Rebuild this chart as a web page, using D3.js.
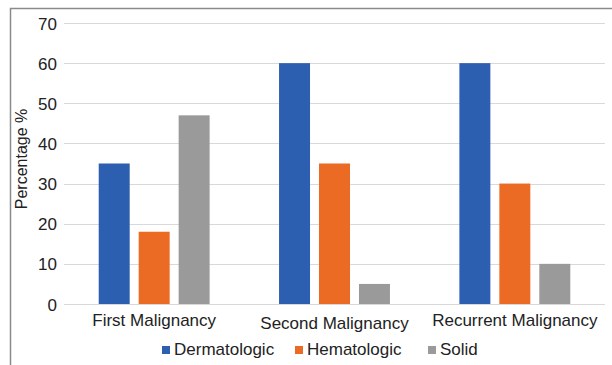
<!DOCTYPE html>
<html><head><meta charset="utf-8">
<script src="https://cdn.jsdelivr.net/npm/d3@7"></script>
<style>
html,body{margin:0;padding:0;background:#fff;}
svg{display:block;font-family:"Liberation Sans",Arial,sans-serif;}
</style></head>
<body>
<svg id="chart" width="612" height="365"></svg>
<script>
const categories = ["First Malignancy", "Second Malignancy", "Recurrent Malignancy"];
const seriesNames = ["Dermatologic", "Hematologic", "Solid"];
const dermatologic = [35, 60, 60];
const hematologic = [18, 35, 30];
const solid = [47, 5, 10];
const yTicks = [0, 10, 20, 30, 40, 50, 60, 70];
const colors = ["#2d5fb0", "#eb6a24", "#9a9a9a"];

const seriesValues = [dermatologic, hematologic, solid];
const svg = d3.select("#chart");

// frame
svg.append("path").attr("d", "M10.5,365 L10.5,8.5 L612,8.5")
  .attr("fill", "none").attr("stroke", "#8a8a8a").attr("stroke-width", 1.5);

const plotLeft = 64, plotRight = 605, plotTop = 23, plotBottom = 304;
const y = d3.scaleLinear().domain([0, 70]).range([plotBottom, plotTop]);
const x0 = d3.scaleBand().domain(categories).range([plotLeft, plotRight])
  .paddingInner(0.385).paddingOuter(0.1925);
const x1 = d3.scaleBand().domain(seriesNames).range([0, x0.bandwidth()])
  .paddingInner(0.225).paddingOuter(0);

// gridlines
svg.append("g").selectAll("line").data(yTicks).join("line")
  .attr("x1", plotLeft).attr("x2", plotRight)
  .attr("y1", d => Math.round(y(d)) + 0.5).attr("y2", d => Math.round(y(d)) + 0.5)
  .attr("stroke", "#d9d9d9").attr("stroke-width", 1.2);

// y axis labels
const yAxis = d3.axisLeft(y).tickValues(yTicks).tickSize(0).tickPadding(0);
const yg = svg.append("g").attr("transform", `translate(${plotLeft - 7},0)`).call(yAxis);
yg.select(".domain").remove();
yg.selectAll("text").attr("font-size", 17).attr("fill", "#222")
  .attr("font-family", "Liberation Sans, Arial, sans-serif").attr("dy", "0.36em");

// bars
const groups = svg.append("g").selectAll("g").data(categories).join("g")
  .attr("transform", d => `translate(${x0(d)},0)`);
groups.selectAll("rect")
  .data((c, i) => seriesNames.map((s, j) => ({ s, v: seriesValues[j][i], j })))
  .join("rect")
  .attr("x", d => x1(d.s)).attr("width", x1.bandwidth())
  .attr("y", d => y(d.v)).attr("height", d => y(0) - y(d.v))
  .attr("fill", d => colors[d.j]);

// x labels
const xAxis = d3.axisBottom(x0).tickSize(0).tickPadding(0);
const xg = svg.append("g").attr("transform", `translate(0,${plotBottom})`).call(xAxis);
xg.select(".domain").remove();
xg.selectAll("text").attr("font-size", 17).attr("fill", "#222")
  .attr("font-family", "Liberation Sans, Arial, sans-serif")
  .attr("dy", null)
  .attr("y", (d, i) => i === 1 ? 25 : 22);

// y title
svg.append("text").attr("transform", "translate(27,159) rotate(-90)")
  .attr("text-anchor", "middle").attr("font-size", 16).attr("fill", "#222")
  .text("Percentage %");

// legend
const legendX = [162, 295, 428];
const lg = svg.append("g").selectAll("g").data(seriesNames).join("g")
  .attr("transform", (d, i) => `translate(${legendX[i]},0)`);
lg.append("rect").attr("x", 0).attr("y", 346).attr("width", 8).attr("height", 8)
  .attr("fill", (d, i) => colors[i]);
lg.append("text").attr("x", 12).attr("y", 355).attr("font-size", 17).attr("fill", "#222")
  .text(d => d);
</script>
</body></html>
